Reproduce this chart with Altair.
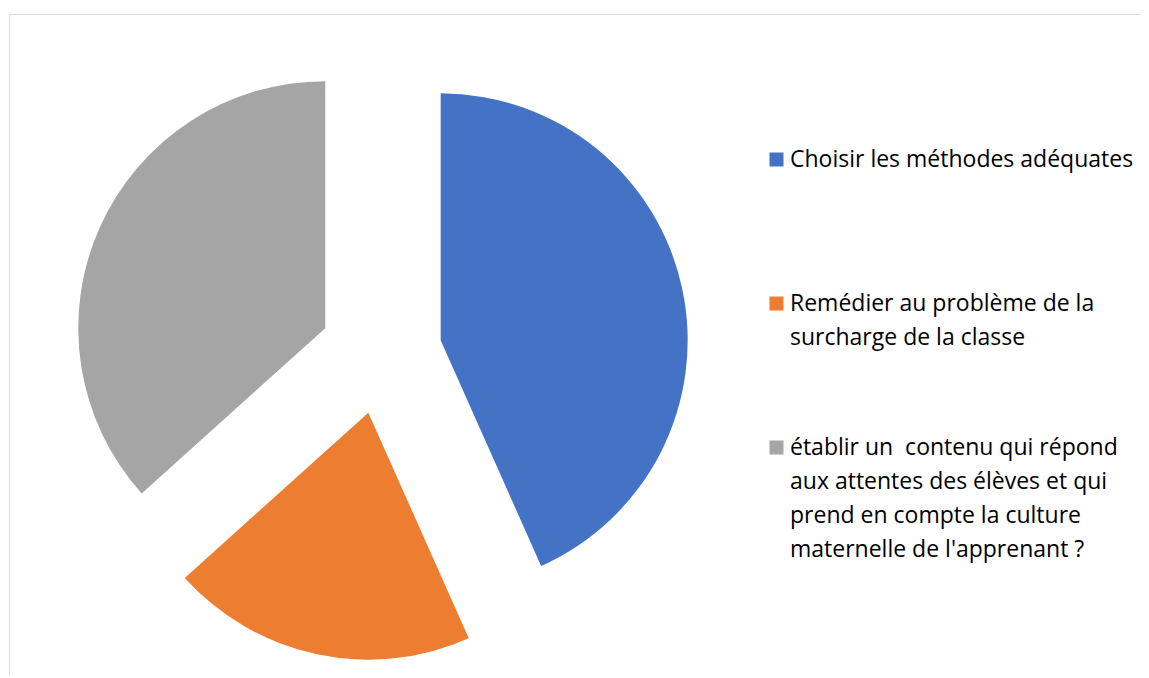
import json
import altair as alt
import pandas as pd

categories = [
    "Choisir les méthodes adéquates",
    "Remédier au problème de la surcharge de la classe",
    "établir un  contenu qui répond aux attentes des élèves et qui prend en compte la culture maternelle de l'apprenant ?",
]
values = [13, 6, 11]
colors = ["#4472C4", "#ED7D31", "#A5A5A5"]
legend_lines = [
    ["Choisir les méthodes adéquates", ""],
    ["Remédier au problème de la", "surcharge de la classe"],
    ["établir un  contenu qui répond", "aux attentes des élèves et qui",
     "prend en compte la culture", "maternelle de l'apprenant ?"],
]

df = pd.DataFrame({"category": categories, "value": values, "order": range(len(values))})

CX, CY, EXPLODE, R = 372, 339, 61, 247

# keep the double space visible in SVG text
shown_lines = [[ln.replace("  ", " \u00a0") for ln in lines] for lines in legend_lines]
expr = "datum.label"
for cat, lines in reversed(list(zip(categories, shown_lines))):
    expr = f"datum.label == {json.dumps(cat)} ? {json.dumps(lines)} : ({expr})"

chart = (
    alt.Chart(df)
    .transform_window(cum="sum(value)", sort=[alt.SortField("order")])
    .transform_joinaggregate(total="sum(value)")
    .transform_calculate(
        a1="2*PI*datum.cum/datum.total",
        a0="2*PI*(datum.cum-datum.value)/datum.total",
    )
    .transform_calculate(mid="(datum.a0+datum.a1)/2")
    .transform_calculate(
        ex=f"{CX}+{EXPLODE}*sin(datum.mid)",
        ey=f"{CY}-{EXPLODE}*cos(datum.mid)",
    )
    .mark_arc(outerRadius=R, innerRadius=0)
    .encode(
        theta=alt.Theta("a0:Q", scale=None),
        theta2="a1:Q",
        x=alt.X("ex:Q", scale=None, axis=None),
        y=alt.Y("ey:Q", scale=None, axis=None),
        color=alt.Color(
            "category:N",
            scale=alt.Scale(domain=categories, range=colors),
            sort=None,
            legend=alt.Legend(
                title=None,
                orient="none",
                legendX=756,
                legendY=141,
                symbolType="M-1,-2H1V0H-1Z",
                symbolSize=196,
                symbolStrokeWidth=0,
                labelFont="Open Sans",
                labelFontSize=23,
                labelColor="#000000",
                labelOffset=2,
                labelLimit=500,
                labelBaseline="alphabetic",
                rowPadding=86,
                labelExpr=expr,
            ),
        ),
    )
    .properties(width=1140, height=664, padding={"left": 1, "top": 6, "right": -8, "bottom": -4})
    .configure_view(stroke="#a0a0a0", strokeWidth=2)
    .configure(style={"guide-label": {"lineHeight": 34}})
)

chart.save("out.html", embed_options={"renderer": "svg", "actions": False})
